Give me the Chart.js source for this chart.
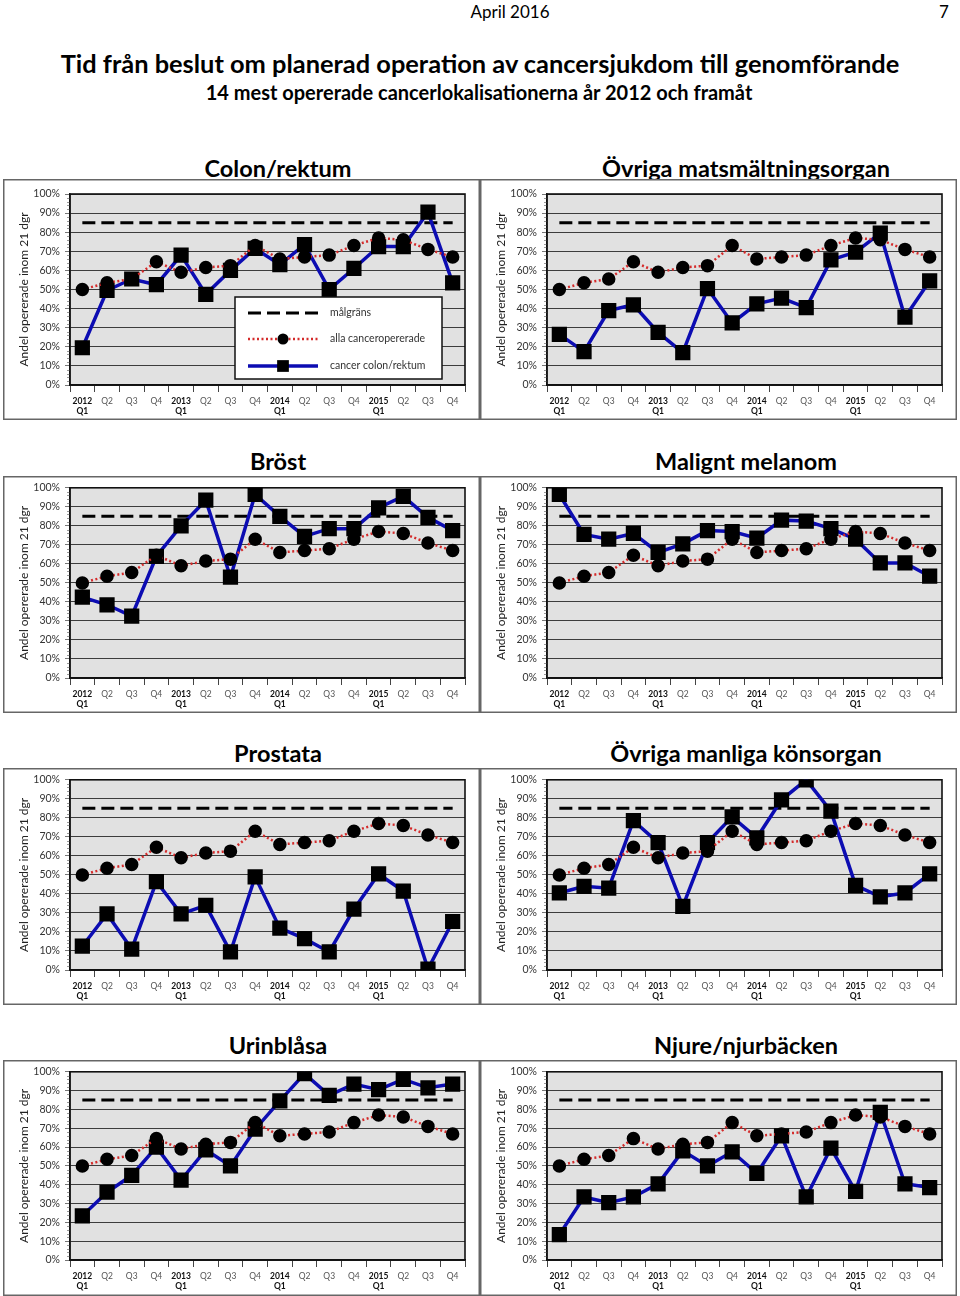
<!DOCTYPE html>
<html>
<head>
<meta charset="utf-8">
<script src="https://cdn.jsdelivr.net/npm/chart.js@4"></script>
<style>
  body { margin: 0; width: 960px; height: 1296px; background: #fff; position: relative; font-family: Lato, 'Open Sans', sans-serif; color: #000; overflow: hidden; }
  .txt { position: absolute; white-space: nowrap; transform: translate(-50%, -50%); }
  #hdr { left: 510px; top: 11px; font-size: 17px; }
  #pnum { left: 944px; top: 11px; font-size: 17px; }
  #titel { left: 480px; top: 63px; font-size: 25.4px; font-weight: bold; }
  #undertitel { left: 479px; top: 92px; font-size: 20px; font-weight: bold; }
  .ptitel { font-size: 23.5px; font-weight: bold; }
  canvas { position: absolute; }
</style>
</head>
<body>
<div class="txt" id="hdr">April 2016</div>
<div class="txt" id="pnum">7</div>
<div class="txt" id="titel">Tid från beslut om planerad operation av cancersjukdom till genomförande</div>
<div class="txt" id="undertitel">14 mest opererade cancerlokalisationerna år 2012 och framåt</div>

<script>
// kvartal på x-axeln
const kvartal = [['2012','Q1'],'Q2','Q3','Q4',['2013','Q1'],'Q2','Q3','Q4',['2014','Q1'],'Q2','Q3','Q4',['2015','Q1'],'Q2','Q3','Q4'];

const malgrans = 85;
const allaCanceropererade = [50, 53.5, 55.5, 64.5, 59, 61.5, 62.5, 73, 66, 67, 68, 73, 77, 76, 71, 67];

const colonRektum = [19.5, 49.5, 55.5, 52.5, 68, 47.5, 60, 71.5, 63, 73.5, 50, 61, 72.5, 72.5, 90.5, 53.5];
const ovrigaMatsmaltning = [26.5, 17.5, 39, 42, 27.5, 17, 50.5, 32.5, 42.5, 45.5, 40.5, 65.5, 69.5, 79.5, 35.5, 54.5];
const brost = [42.5, 38.5, 32.5, 64, 80, 93.5, 53, 96.5, 85, 74.5, 78.5, 78.5, 89.5, 95.5, 84.5, 77.5];
const maligntMelanom = [96.5, 75.5, 73, 76, 66, 70.5, 77.5, 77, 73.5, 83, 82.5, 78.5, 73, 60.5, 60.5, 53.5];
const prostata = [12.5, 29.5, 11, 46.5, 29.5, 34, 9.5, 49, 22, 16.5, 9.5, 32, 50.5, 41.5, 0.5, 25.5];
const ovrigaManliga = [40.5, 44, 43, 78.5, 67, 33.5, 67, 80.5, 69.5, 89.5, 100, 83.5, 44.5, 38.5, 40.5, 50.5];
const urinblasa = [23.5, 36, 45, 60, 42.5, 58.5, 50, 69.5, 84.5, 99, 87.5, 93.5, 90.5, 96, 91.5, 93.5];
const njure = [13.5, 33.5, 30.5, 33.5, 40.5, 58, 50, 57.5, 46, 66, 33.5, 59.5, 36.5, 78.5, 40.5, 38.5];

const paneler = [
  ['Colon/rektum', colonRektum],
  ['Övriga matsmältningsorgan', ovrigaMatsmaltning],
  ['Bröst', brost],
  ['Malignt melanom', maligntMelanom],
  ['Prostata', prostata],
  ['Övriga manliga könsorgan', ovrigaManliga],
  ['Urinblåsa', urinblasa],
  ['Njure/njurbäcken', njure]
];

// placering per rad
const radTopp = [179, 476, 768, 1060];
const radHojd = [241, 237, 237, 236];
const plotTopp = [15, 10, 11, 11];
const xAxelHojd = [35, 35, 35, 36];
const kolX = [3, 480];
const titelX = [278, 746];
const titelY = [168, 461, 753, 1045];

const BLA = '#0c0cb2';
const ROD = '#d42a2a';
const FONT = 'Lato, "Open Sans", sans-serif';

// grå bakgrund och ram
const ramPlugin = {
  id: 'ram',
  beforeDraw(chart) {
    const c = chart.ctx, a = chart.chartArea;
    c.save();
    c.fillStyle = '#fff';
    c.fillRect(0, 0, chart.width, chart.height);
    c.fillStyle = '#e1e1e1';
    c.fillRect(a.left, a.top, a.right - a.left, a.bottom - a.top);
    c.restore();
  },
  beforeDatasetsDraw(chart) {
    const c = chart.ctx, a = chart.chartArea;
    const y = chart.scales.y;
    c.save();
    // små streck på y-axeln
    c.strokeStyle = '#999';
    c.lineWidth = 1;
    for (let v = 0; v <= 100; v += 2) {
      if (v % 10 === 0) continue;
      const py = Math.round(y.getPixelForValue(v)) + 0.5;
      c.beginPath(); c.moveTo(a.left - 3, py); c.lineTo(a.left, py); c.stroke();
    }
    c.strokeStyle = '#111';
    c.lineWidth = 1.6;
    c.strokeRect(a.left, a.top, a.right - a.left, a.bottom - a.top);
    c.strokeStyle = '#666';
    c.lineWidth = 1.5;
    c.strokeRect(0.75, 0.75, chart.width - 1.5, chart.height - 1.5);
    c.restore();
  }
};

// förklaring inne i första diagrammet
const forklaringPlugin = {
  id: 'forklaring',
  afterDraw(chart, args, opts) {
    if (!opts.visa) return;
    const c = chart.ctx;
    const x0 = opts.x, y0 = opts.y, w = 207, h = 82;
    c.save();
    c.fillStyle = '#fff';
    c.fillRect(x0, y0, w, h);
    c.strokeStyle = '#111';
    c.lineWidth = 1.5;
    c.strokeRect(x0, y0, w, h);
    const rader = [16, 42, 69];
    const ds = chart.data.datasets;
    c.font = '10.5px ' + FONT;
    c.textBaseline = 'middle';
    rader.forEach((ry, i) => {
      const d = ds[i];
      const y = y0 + ry;
      c.beginPath();
      c.strokeStyle = d.borderColor;
      c.lineWidth = d.borderWidth;
      c.setLineDash(d.borderDash || []);
      c.moveTo(x0 + 13, y); c.lineTo(x0 + 83, y); c.stroke();
      c.setLineDash([]);
      if (d.pointRadius > 0) {
        c.fillStyle = '#000';
        c.beginPath();
        if (d.pointStyle === 'rect') { const s = d.pointRadius * Math.SQRT1_2; c.rect(x0 + 48 - s, y - s, 2 * s, 2 * s); }
        else c.arc(x0 + 48, y, d.pointRadius, 0, Math.PI * 2);
        c.fill();
      }
      c.fillStyle = '#333';
      c.fillText(d.label, x0 + 95, y);
    });
    c.restore();
  }
};

paneler.forEach(([namn, serie], i) => {
  const rad = Math.floor(i / 2), kol = i % 2;

  const t = document.createElement('div');
  t.className = 'txt ptitel';
  t.style.left = titelX[kol] + 'px';
  t.style.top = titelY[rad] + 'px';
  t.textContent = namn;
  document.body.appendChild(t);

  const cv = document.createElement('canvas');
  cv.width = 477; cv.height = radHojd[rad];
  cv.style.left = kolX[kol] + 'px';
  cv.style.top = radTopp[rad] + 'px';
  document.body.appendChild(cv);

  const xh = xAxelHojd[rad];
  new Chart(cv.getContext('2d'), {
    type: 'line',
    data: {
      labels: kvartal,
      datasets: [{
        label: 'målgräns',
        data: kvartal.map(() => malgrans),
        borderColor: '#000',
        borderWidth: 3,
        borderDash: [13, 6],
        pointRadius: 0,
        order: 3
      }, {
        label: 'alla canceropererade',
        data: allaCanceropererade,
        borderColor: ROD,
        borderWidth: 2.5,
        borderDash: [2, 2.5],
        pointStyle: 'circle',
        pointRadius: 5.5,
        pointBackgroundColor: '#000',
        pointBorderColor: '#000',
        order: 1
      }, {
        label: 'cancer colon/rektum',
        data: serie,
        borderColor: BLA,
        borderWidth: 3.5,
        pointStyle: 'rect',
        pointRadius: 8.3,
        pointBackgroundColor: '#000',
        pointBorderColor: '#000',
        order: 2
      }]
    },
    options: {
      responsive: false,
      animation: false,
      layout: { padding: { top: plotTopp[rad], right: 15, left: 0, bottom: 0 } },
      plugins: {
        legend: { display: false },
        tooltip: { enabled: false },
        forklaring: { visa: i === 0, x: 232, y: 118 }
      },
      scales: {
        x: {
          offset: true,
          grid: { offset: true, drawOnChartArea: false, tickLength: 7, color: '#444' },
          border: { color: '#111', width: 1.5 },
          ticks: {
            autoSkip: false, maxRotation: 0, padding: 4,
            font: (ctx) => ({ family: FONT, size: 8.5, lineHeight: 1.2, weight: ctx.index % 4 === 0 ? 'bold' : 'normal' }),
            color: (ctx) => ctx.index % 4 === 0 ? '#111' : '#555'
          },
          afterFit: (s) => { s.height = xh; }
        },
        y: {
          min: 0, max: 100,
          grid: { color: '#3c3c3c', lineWidth: 1, tickLength: 5, tickColor: '#777' },
          border: { color: '#111', width: 1.5 },
          ticks: {
            stepSize: 10, padding: 5,
            font: { family: FONT, size: 10.5 }, color: '#333',
            callback: (v) => v + '%'
          },
          title: {
            display: true, text: 'Andel opererade inom 21 dgr',
            font: { family: FONT, size: 12 }, color: '#222',
            padding: { top: 14, bottom: 0 }
          },
          afterFit: (s) => { s.width = 67; }
        }
      }
    },
    plugins: [ramPlugin, forklaringPlugin]
  });
});
</script>
</body>
</html>
